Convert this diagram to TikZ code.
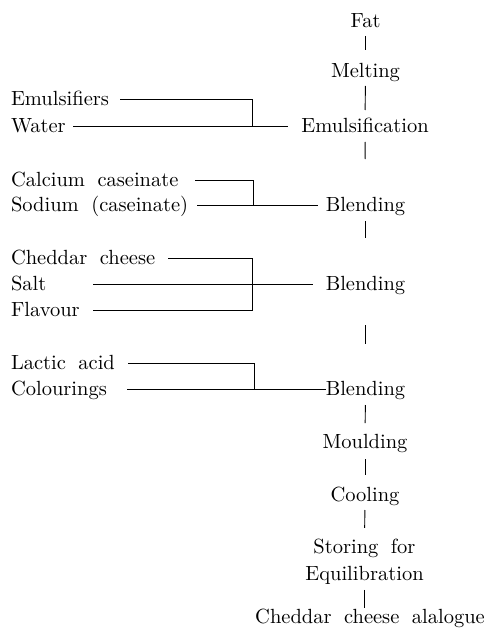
\documentclass[tikz,border=0pt]{standalone}
\usepackage{fontspec}
\setmainfont{lmroman10-regular.otf}
\begin{document}
\begin{tikzpicture}[x=1pt,y=-1pt,
  every node/.style={inner sep=0pt,outer sep=0pt,font={\fontsize{20.5}{26.5}\selectfont},
    execute at begin node={\spaceskip=12.5pt plus 2pt minus 2pt\xspaceskip=12.5pt}},
  stage/.style={text height=14pt,text depth=1pt},
  multi/.style={align=center},
  ingr/.style={text height=14pt,text depth=1pt,anchor=west,align=left},
  link/.style={line width=0.9pt}]
\useasboundingbox (0,0) rectangle (492,639);
% main column
\node[stage] (fat) at (365.5,21.5) {Fat};
\node[stage] (melt) at (365.5,71.5) {Melting};
\node[stage] (emul) at (365,126.5) {Emulsification};
\node[stage] (bl1) at (365.5,205) {Blending};
\node[stage] (bl2) at (365.5,284) {Blending};
\node[stage] (bl3) at (365.5,389) {Blending};
\node[stage] (mould) at (365,442) {Moulding};
\node[stage] (cool) at (365,495) {Cooling};
\node[multi] (store) at (364.5,562) {Storing for\\Equilibration};
\node[stage] (prod) at (370,616.5) {Cheddar cheese alalogue};
% vertical links
\draw[link,shorten <=7pt,shorten >=14pt] (fat.south) -- (melt.north);
\draw[link,shorten <=7pt,shorten >=9pt] (melt.south) -- (emul.north);
\draw[link,shorten <=8pt,shorten >=38.5pt] (emul.south) -- (bl1.north);
\draw[link,shorten <=8.5pt,shorten >=38.5pt] (bl1.south) -- (bl2.north);
\draw[link,shorten <=33.5pt,shorten >=37.5pt] (bl2.south) -- (bl3.north);
\draw[link,shorten <=8.5pt,shorten >=11.5pt] (bl3.south) -- (mould.north);
\draw[link,shorten <=9.5pt,shorten >=12.5pt] (mould.south) -- (cool.north);
\draw[link,shorten <=7.5pt,shorten >=11.6pt] (cool.south) -- (store.north);
\draw[link,shorten <=5.5pt,shorten >=1pt] (store.south) -- (store.south |- prod.north);
% ingredients
\node[ingr,text width=109pt] (emulsifiers) at (11,99) {Emulsifiers};
\node[ingr,text width=62pt] (water) at (11,126.5) {Water};
\node[ingr,text width=184pt] (calcium) at (11,180) {Calcium caseinate};
\node[ingr,text width=186pt] (sodium) at (11,205) {Sodium (caseinate)};
\node[ingr,text width=157pt] (cheddar) at (11,258) {Cheddar cheese};
\node[ingr,text width=82pt] (salt) at (11,284) {Salt};
\node[ingr,text width=82pt] (flavour) at (11,310) {Flavour};
\node[ingr,text width=117pt] (lactic) at (11,363) {Lactic acid};
\node[ingr,text width=116pt] (colour) at (11,389) {Colourings};
% junctions
\coordinate (j1) at (252,126.5);
\coordinate (j2) at (253,205);
\coordinate (j3) at (252,310);
\coordinate (j4) at (254,389);
% horizontal links
\draw[link] (emulsifiers.east) -| (j1);
\draw[link,shorten >=13pt] (water.east) -- (emul.west);
\draw[link] (calcium.east) -| (j2);
\draw[link,shorten >=7.5pt] (sodium.east) -- (bl1.west);
\draw[link] (cheddar.east) -| (j3) -- (flavour.east);
\draw[link,shorten >=12.5pt] (salt.east) -- (bl2.west);
\draw[link] (lactic.east) -| (j4);
\draw[link] (colour.east) -- (bl3.west);
\end{tikzpicture}
\end{document}
